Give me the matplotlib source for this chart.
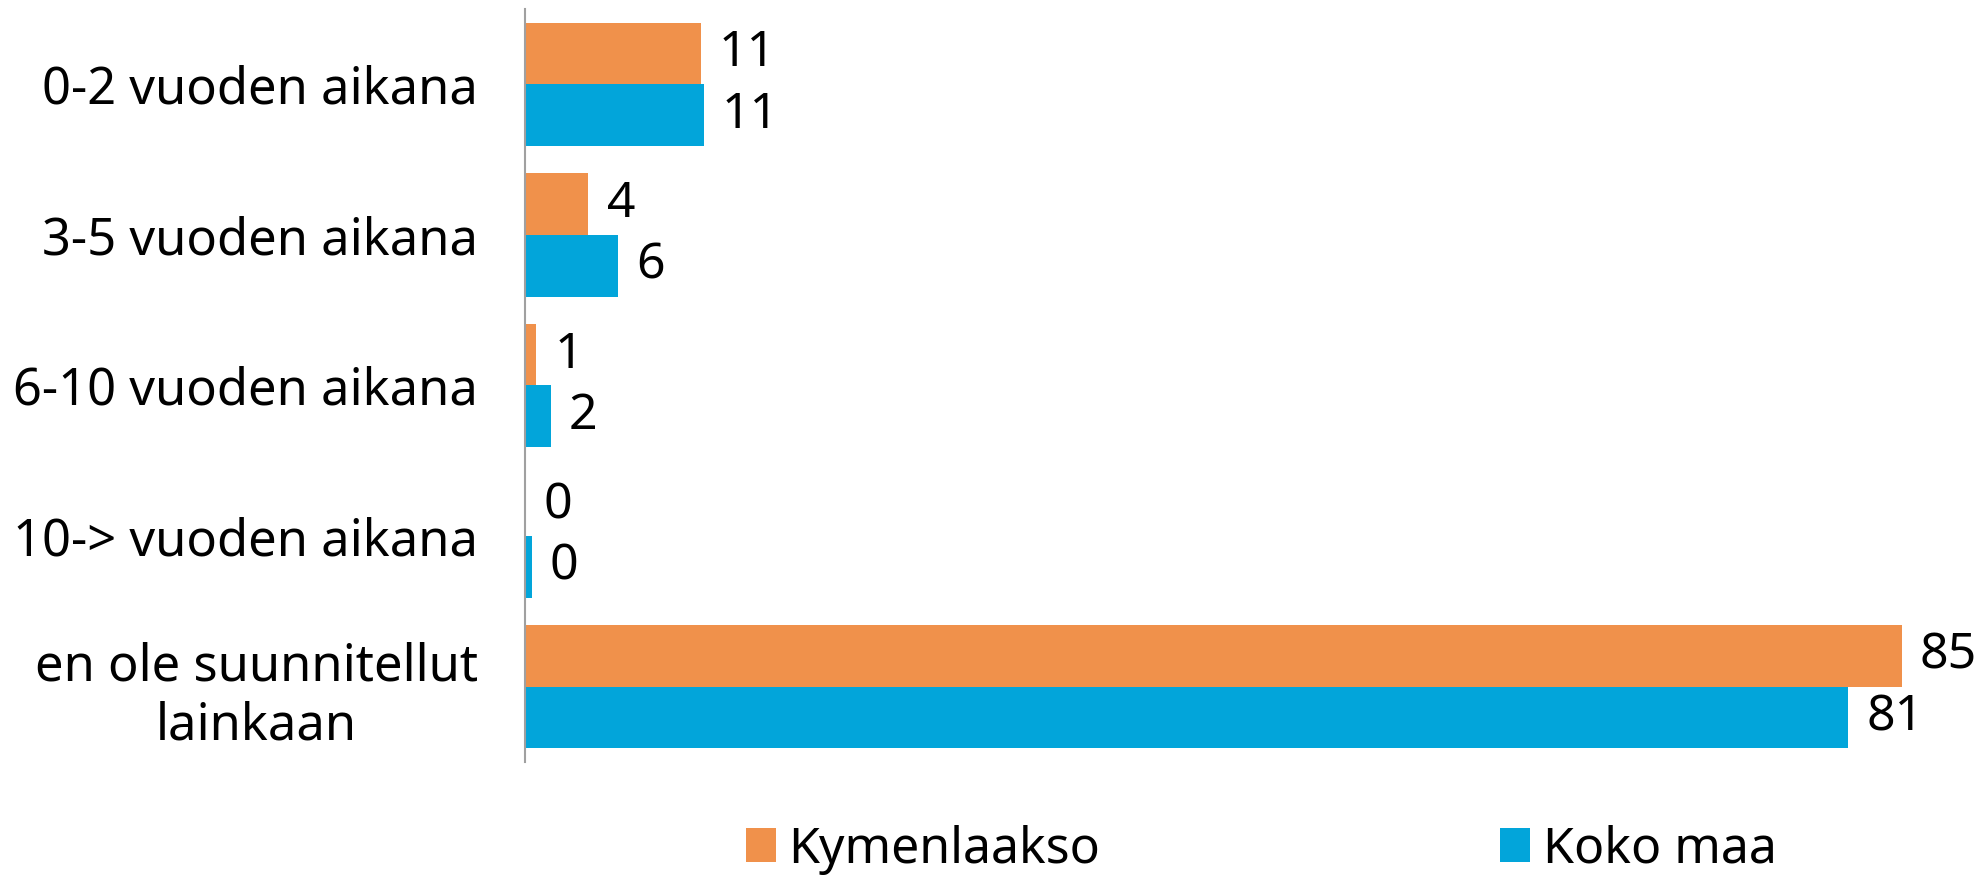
import matplotlib
matplotlib.use("Agg")
import matplotlib.pyplot as plt
import numpy as np

categories = ["0-2 vuoden aikana", "3-5 vuoden aikana", "6-10 vuoden aikana",
              "10-> vuoden aikana", "en ole suunnitellut\nlainkaan"]
series_names = ["Kymenlaakso", "Koko maa"]
kymenlaakso = [10.8, 3.9, 0.7, 0.0, 84.6]
koko_maa = [11.0, 5.7, 1.6, 0.4, 81.3]

colors = ["#F0914B", "#02A5DA"]
plt.rcParams['font.family'] = ['Noto Sans', 'DejaVu Sans']
FS = 36

fig = plt.figure(figsize=(19.77, 8.76), dpi=100)
ax = fig.add_axes([525/1977, 1-762/876, 1 - 525/1977 - 0.01, (762-9)/876])

y = np.arange(len(categories))
h = 0.41
b1 = ax.barh(y - h/2, kymenlaakso, height=h, color=colors[0], label=series_names[0])
b2 = ax.barh(y + h/2, koko_maa, height=h, color=colors[1], label=series_names[1])

for bars, vals in ((b1, kymenlaakso), (b2, koko_maa)):
    for rect, v in zip(bars, vals):
        ax.annotate(f"{v:.0f}", xy=(rect.get_width(), rect.get_y() + rect.get_height()/2),
                    xytext=(13, 0), textcoords="offset points", ha="left", va="center",
                    fontsize=FS, color="black", annotation_clip=False)

ax.set_ylim(len(categories) - 0.5, -0.5)
ax.set_xlim(0, 88)
ax.set_yticks(y)
ax.set_yticklabels(categories, fontsize=36.5, multialignment="center")
ax.tick_params(axis="y", length=0, pad=34)
ax.set_xticks([])
for s in ["top", "right", "bottom"]:
    ax.spines[s].set_visible(False)
ax.spines["left"].set_color("#A0A0A0")
ax.spines["left"].set_linewidth(1.5)

fig.legend(handles=[b1, b2], labels=series_names, loc="center",
           bbox_to_anchor=(0.638, 0.030), ncol=2, frameon=False, fontsize=FS,
           handlelength=0.6, handleheight=0.65, handletextpad=0.25, columnspacing=8.0,
           borderpad=0)

fig.savefig("out.png", dpi=100)
